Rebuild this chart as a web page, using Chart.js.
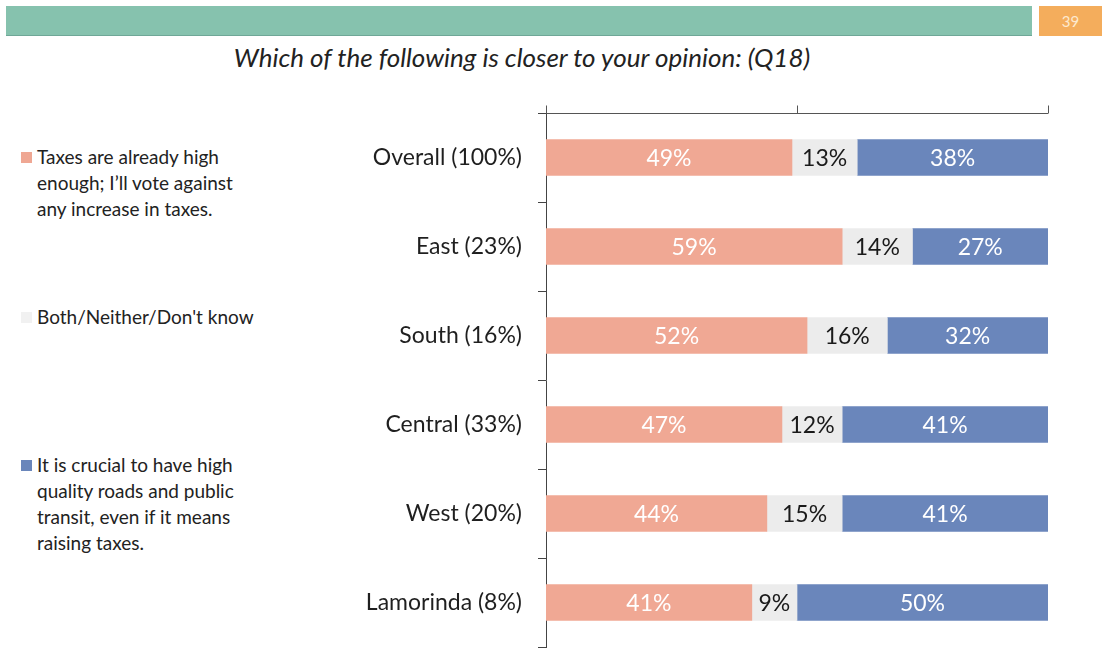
<!DOCTYPE html>
<html>
<head>
<meta charset="utf-8">
<script src="https://cdn.jsdelivr.net/npm/chart.js@4"></script>
<style>
  html, body { margin: 0; padding: 0; background: #ffffff; }
  body { width: 1102px; height: 648px; position: relative; overflow: hidden; font-family: Lato, "Open Sans", sans-serif; color: #222; }
  .band { position: absolute; left: 6px; top: 6px; width: 1026px; height: 29px; background: #86c2ae; border-bottom: 1px solid #6fa797; }
  .page { position: absolute; left: 1039px; top: 6px; width: 63px; height: 30px; background: #f4ad5c; color: #fde9cf; font-size: 15px; line-height: 30px; text-align: center; }
  .title { position: absolute; left: 0; top: 41px; width: 1044px; text-align: center; font-style: italic; font-size: 26px; color: #222; }
  .legend { position: absolute; left: 37px; font-size: 19px; line-height: 26px; color: #222; }
  .legend .sw { position: absolute; left: -16px; top: 8px; width: 11px; height: 11px; }
  #chart { position: absolute; left: 0; top: 0; }
</style>
</head>
<body>
<div class="band"></div>
<div class="page">39</div>
<div class="title">Which of the following is closer to your opinion: (Q18)</div>

<div class="legend" style="top:144px;"><span class="sw" style="background:#efa793;"></span>Taxes are already high<br>enough; I’ll vote against<br>any increase in taxes.</div>
<div class="legend" style="top:304px;"><span class="sw" style="background:#f1f1f1;"></span>Both/Neither/Don't know</div>
<div class="legend" style="top:452px;"><span class="sw" style="background:#6a86bb;"></span>It is crucial to have high<br>quality roads and public<br>transit, even if it means<br>raising taxes.</div>

<canvas id="chart" width="1102" height="648"></canvas>

<script>
// Regions (with share of sample) and the three answer groups, in percent
const categories = ['Overall (100%)', 'East (23%)', 'South (16%)', 'Central (33%)', 'West (20%)', 'Lamorinda (8%)'];
const againstTaxes = [49, 59, 52, 47, 44, 41];
const bothNeither = [13, 14, 16, 12, 15, 9];
const crucialRoads = [38, 27, 32, 41, 41, 50];
const seriesNames = ['Taxes are already high enough; I’ll vote against any increase in taxes.', 'Both/Neither/Don\'t know', 'It is crucial to have high quality roads and public transit, even if it means raising taxes.'];
const xTicks = [0, 50, 100];

const fills = ['#f0a894', '#ececec', '#6a86bb'];
const labelColors = ['#ffffff', '#1a1a1a', '#ffffff'];

// Writes each segment's percentage in the middle of its bar
const segmentLabels = {
  id: 'segmentLabels',
  afterDatasetsDraw(chart) {
    const ctx = chart.ctx;
    ctx.save();
    ctx.font = '23px Lato, "Open Sans", sans-serif';
    ctx.textAlign = 'center';
    ctx.textBaseline = 'middle';
    chart.data.datasets.forEach((ds, di) => {
      const meta = chart.getDatasetMeta(di);
      meta.data.forEach((bar, i) => {
        const cx = (bar.x + bar.base) / 2;
        ctx.fillStyle = labelColors[di];
        ctx.fillText(ds.data[i] + '%', cx, bar.y + 1);
      });
    });
    ctx.restore();
  }
};

// Top value axis: a rule along the upper edge of the first category band,
// with upward ticks at 0, 50 and 100
const topAxisRule = {
  id: 'topAxisRule',
  afterDraw(chart) {
    const ctx = chart.ctx;
    const xs = chart.scales.x;
    const ys = chart.scales.y;
    const bandH = ys.getPixelForValue(1) - ys.getPixelForValue(0);
    const top = Math.round(ys.getPixelForValue(0) - bandH / 2) + 0.5;
    ctx.save();
    ctx.strokeStyle = '#555';
    ctx.lineWidth = 1;
    ctx.beginPath();
    ctx.moveTo(xs.getPixelForValue(xTicks[0]), top);
    ctx.lineTo(xs.getPixelForValue(xTicks[xTicks.length - 1]), top);
    xTicks.forEach(v => {
      const x = Math.round(xs.getPixelForValue(v)) + 0.5;
      ctx.moveTo(x, top);
      ctx.lineTo(x, top - 8);
    });
    ctx.stroke();
    ctx.restore();
  }
};

new Chart(document.getElementById('chart'), {
  type: 'bar',
  data: {
    labels: categories,
    datasets: [againstTaxes, bothNeither, crucialRoads].map((vals, k) => ({
      label: seriesNames[k],
      data: vals,
      backgroundColor: fills[k],
      borderWidth: 0,
      barThickness: 36
    }))
  },
  options: {
    indexAxis: 'y',
    responsive: false,
    animation: false,
    layout: { padding: { left: 0, right: 54, top: 105, bottom: 1 } },
    plugins: {
      legend: { display: false },
      tooltip: { enabled: false }
    },
    scales: {
      x: {
        position: 'top',
        stacked: true,
        min: 0,
        max: 100,
        afterBuildTicks(axis) { axis.ticks = xTicks.map(v => ({ value: v })); },
        ticks: { display: false },
        grid: { display: false },
        border: { display: false },
        afterFit(axis) { axis.height = 8; axis.paddingLeft = 0; axis.paddingRight = 0; }
      },
      y: {
        stacked: true,
        ticks: {
          color: '#1f1f1f',
          font: { family: 'Lato, "Open Sans", sans-serif', size: 23 },
          padding: 16
        },
        grid: { drawOnChartArea: false, drawTicks: true, tickLength: 8, color: '#444', lineWidth: 1, offset: true },
        border: { display: true, color: '#444', width: 1 },
        afterFit(axis) { axis.width = 546; axis.paddingTop = 0; axis.paddingBottom = 0; }
      }
    }
  },
  plugins: [segmentLabels, topAxisRule]
});
</script>
</body>
</html>
